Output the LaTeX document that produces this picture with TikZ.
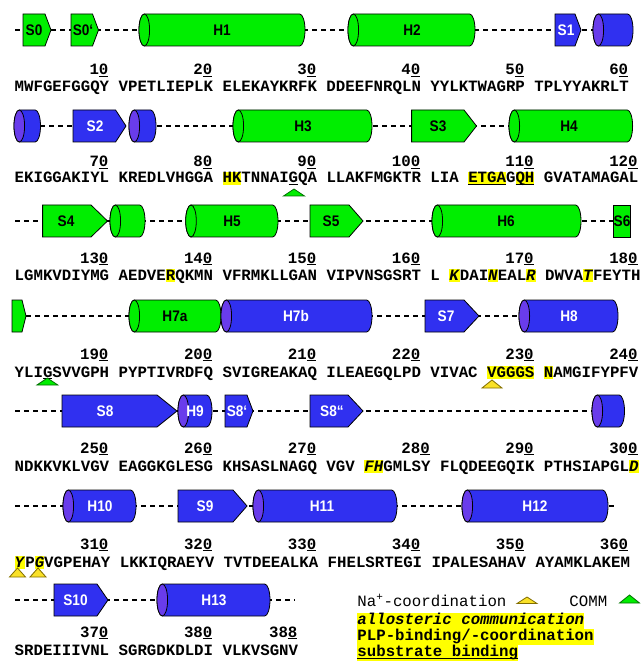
\documentclass[tikz,border=0pt]{standalone}
\usepackage{fontspec}
\usepackage{graphicx}
\setmonofont{Liberation Mono}
\newfontfamily\labfont{Liberation Sans}[FakeStretch=0.89]
\definecolor{hgreen}{RGB}{0,238,0}
\definecolor{hblue}{RGB}{48,48,240}
\definecolor{hface}{RGB}{105,60,235}
\definecolor{hly}{RGB}{255,255,0}
\definecolor{naf}{RGB}{250,225,40}
\definecolor{naedge}{RGB}{130,110,0}
\definecolor{commedge}{RGB}{0,110,0}
\newsavebox\hlbox
\newsavebox\unlbox
\newcommand\hlt[1]{\sbox\hlbox{#1}\rlap{\color{hly}\rule[-1.3pt]{\wd\hlbox}{9.3pt}}\usebox\hlbox}
\newcommand\unl[1]{\sbox\unlbox{#1}\rlap{\rule[-1.8pt]{\wd\unlbox}{0.7pt}}\usebox\unlbox}
\newcommand\helix[5]{\filldraw[fill=#4] (#1+5.3,#3-16) -- (#2-5.3,#3-16)
  arc[start angle=-90, end angle=90, x radius=5.3, y radius=16] -- (#1+5.3,#3+16)
  arc[start angle=90, end angle=270, x radius=5.3, y radius=16] -- cycle;
  \filldraw[fill=#5] (#1+5.3,#3) ellipse[x radius=5.3, y radius=16];}
\newcommand\strand[5]{\filldraw[fill=#5] (#1,#4-16) -- (#2,#4-16) -- (#3,#4)
  -- (#2,#4+16) -- (#1,#4+16) -- cycle;}
\newcommand\tri[5]{\filldraw[#5] (#1,#2) -- (#1+#3,#2+#4) -- (#1-#3,#2+#4) -- cycle;}

\begin{document}
\begin{tikzpicture}[x=0.75pt, y=-0.75pt, line width=0.6pt,
    seq/.style={inner sep=0pt, anchor=base west,
      font=\ttfamily\bfseries\fontsize{11.81}{14}\selectfont},
    num/.style={seq, anchor=base east},
    leg/.style={inner sep=0pt, anchor=base west,
      font=\ttfamily\fontsize{11.81}{14}\selectfont},
    legh/.style={seq, fill=hly, text height=8.6pt, text depth=3.4pt},
    lbk/.style={inner sep=0pt, text height=8.2pt, text depth=0pt,
      font=\labfont\bfseries\fontsize{11.5}{12}\selectfont},
    lbw/.style={lbk, text=white},
    coil/.style={dash pattern=on 3.75pt off 3pt, line width=0.8pt},
    comm/.style={fill=hgreen, draw=commedge},
    nac/.style={fill=naf, draw=naedge}]
  \useasboundingbox (0,0) rectangle (640,666);
  % column origin and width of one residue
  \def\xo{14.3} \def\cw{9.45}
  % ---- coil lines ----------------------------------------------------
  \draw[coil] (15,30) -- (593,30);
  \draw[coil] (40,126) -- (509,126);
  \draw[coil] (15,221) -- (613,221);
  \draw[coil] (26,316) -- (519,316);
  \draw[coil] (15,411) -- (592,411);
  \draw[coil] (15,506) -- (618,506);
  \draw[coil] (15,600) -- (295,600);
  % ---- row 1 ---------------------------------------------------------
  \strand{23}{45}{51}{30}{hgreen}
  \strand{71}{92.5}{98.5}{30}{hgreen}
  \helix{139}{305}{30}{hgreen}{hgreen}
  \helix{348}{475}{30}{hgreen}{hgreen}
  \strand{555}{575}{581}{30}{hblue}
  \helix{593}{633}{30}{hblue}{hface}
  \node[lbk] (s0) at (34,30) {S0};
  \node[lbk] (s0p) at (83,30) {S0‘};
  \node[lbk] (h1) at (222,30) {H1};
  \node[lbk] (h2) at (412,30) {H2};
  \node[lbw] (s1) at (566,30) {S1};
  % ---- row 2 ---------------------------------------------------------
  \helix{14}{40.5}{126}{hblue}{hface}
  \strand{73}{115.6}{126}{126}{hblue}
  \helix{129}{156}{126}{hblue}{hface}
  \helix{233}{372}{126}{hgreen}{hgreen}
  \strand{411.6}{464}{476.5}{126}{hgreen}
  \helix{509}{632.6}{126}{hgreen}{hgreen}
  \node[lbw] (s2) at (95,126) {S2};
  \node[lbk] (h3) at (303,126) {H3};
  \node[lbk] (s3) at (438,126) {S3};
  \node[lbk] (h4) at (569,126) {H4};
  % ---- row 3 ---------------------------------------------------------
  \strand{42.6}{91}{107.5}{221}{hgreen}
  \helix{110}{145}{221}{hgreen}{hgreen}
  \helix{185.7}{278}{221}{hgreen}{hgreen}
  \strand{310}{349}{363}{221}{hgreen}
  \helix{432}{581}{221}{hgreen}{hgreen}
  \filldraw[fill=hgreen] (613,205) rectangle (630.6,237);
  \node[lbk] (s4) at (66,221) {S4};
  \node[lbk] (h5) at (232,221) {H5};
  \node[lbk] (s5) at (331,221) {S5};
  \node[lbk] (h6) at (506,221) {H6};
  \node[lbk] (s6) at (622,221) {S6};
  % ---- row 4 ---------------------------------------------------------
  \strand{12}{22}{26}{316}{hgreen}
  \helix{129}{221}{316}{hgreen}{hgreen}
  \helix{221}{372}{316}{hblue}{hface}
  \strand{425}{464}{479}{316}{hblue}
  \helix{519}{618}{316}{hblue}{hface}
  \node[lbk] (h7a) at (175,316) {H7a};
  \node[lbw] (h7b) at (296,316) {H7b};
  \node[lbw] (s7) at (446,316) {S7};
  \node[lbw] (h8) at (569,316) {H8};
  % ---- row 5 ---------------------------------------------------------
  \strand{62}{157}{177}{411}{hblue}
  \helix{178}{212}{411}{hblue}{hface}
  \strand{225}{247}{253}{411}{hblue}
  \strand{310}{348}{363}{411}{hblue}
  \helix{592}{624.5}{411}{hblue}{hface}
  \node[lbw] (s8) at (105,411) {S8};
  \node[lbw] (h9) at (195,411) {H9};
  \node[lbw] (s8p) at (237,411) {S8‘};
  \node[lbw] (s8pp) at (332,411) {S8“};
  % ---- row 6 ---------------------------------------------------------
  \helix{63}{136}{506}{hblue}{hface}
  \strand{178}{233}{247}{506}{hblue}
  \helix{253}{397}{506}{hblue}{hface}
  \helix{462}{608}{506}{hblue}{hface}
  \node[lbw] (h10) at (100,506) {H10};
  \node[lbw] (s9) at (205,506) {S9};
  \node[lbw] (h11) at (322,506) {H11};
  \node[lbw] (h12) at (535,506) {H12};
  % ---- row 7 ---------------------------------------------------------
  \strand{54}{97}{108}{600}{hblue}
  \helix{157}{270}{600}{hblue}{hface}
  \node[lbw] (s10) at (75.5,600) {S10};
  \node[lbw] (h13) at (214,600) {H13};
  % ---- residue numbers -----------------------------------------------
  \foreach \c/\a/\b in {9/1/0,20/2/0,31/3/0,42/4/0,53/5/0,64/6/0}
    \node[num] (n\a\b) at ({\xo+(\c+1)*\cw},75) {\a\unl{\b}};
  \foreach \c/\a/\b in {9/7/0,20/8/0,31/9/0,42/10/0,54/11/0,65/12/0}
    \node[num] (n\a\b) at ({\xo+(\c+1)*\cw},167) {\a\unl{\b}};
  \foreach \c/\a/\b in {9/13/0,20/14/0,31/15/0,42/16/0,54/17/0,65/18/0}
    \node[num] (n\a\b) at ({\xo+(\c+1)*\cw},263) {\a\unl{\b}};
  \foreach \c/\a/\b in {9/19/0,20/20/0,31/21/0,42/22/0,54/23/0,65/24/0}
    \node[num] (n\a\b) at ({\xo+(\c+1)*\cw},359) {\a\unl{\b}};
  \foreach \c/\a/\b in {9/25/0,20/26/0,31/27/0,43/28/0,54/29/0,65/30/0}
    \node[num] (n\a\b) at ({\xo+(\c+1)*\cw},453) {\a\unl{\b}};
  \foreach \c/\a/\b in {9/31/0,20/32/0,31/33/0,42/34/0,53/35/0,64/36/0}
    \node[num] (n\a\b) at ({\xo+(\c+1)*\cw},549) {\a\unl{\b}};
  \foreach \c/\a/\b in {9/37/0,20/38/0,29/38/8}
    \node[num] (n\a\b) at ({\xo+(\c+1)*\cw},637) {\a\unl{\b}};
  % ---- sequence ------------------------------------------------------
  \node[seq] (r1) at (\xo,92) {MWFGEFGGQY VPETLIEPLK ELEKAYKRFK DDEEFNRQLN YYLKTWAGRP TPLYYAKRLT};
  \node[seq] (r2) at (\xo,183) {EKIGGAKIYL KREDLVHGGA \hlt{HK}TNNAI\unl{G}QA LLAKFMGKTR LIA \hlt{\unl{ETGA}}G\hlt{\unl{QH}} GVATAMAGAL};
  \node[seq] (r3) at (\xo,280) {LGMKVDIYMG AEDVE\hlt{R}QKMN VFRMKLLGAN VIPVNSGSRT L \hlt{\textit{K}}DAI\hlt{\textit{N}}EAL\hlt{\textit{R}} DWVA\hlt{\textit{T}}FEYTH};
  \node[seq] (r4) at (\xo,377) {YLI\unl{G}SVVGPH PYPTIVRDFQ SVIGREAKAQ ILEAEGQLPD VIVAC \hlt{VGGGS} \hlt{N}AMGIFYPFV};
  \node[seq] (r5) at (\xo,471) {NDKKVKLVGV EAGGKGLESG KHSASLNAGQ VGV \hlt{\textit{FH}}GMLSY FLQDEEGQIK PTHSIAPGL\hlt{\textit{D}}};
  \node[seq] (r6) at (\xo,567) {\hlt{\textit{Y}}P\hlt{\textit{G}}VGPEHAY LKKIQRAEYV TVTDEEALKA FHELSRTEGI IPALESAHAV AYAMKLAKEM};
  \node[seq] (r7) at (\xo,655) {SRDEIIIVNL SGRGDKDLDI VLKVSGNV};
  % ---- marks below residues ------------------------------------------
  \tri{294}{189}{10.5}{7}{comm}
  \tri{47.4}{378}{10.5}{7}{comm}
  \tri{492}{380}{10}{8}{nac}
  \tri{17.5}{568}{8}{9}{nac}
  \tri{38}{568}{8}{9}{nac}
  % ---- legend --------------------------------------------------------
  \node[leg] (na) at (357,606) {Na\textsuperscript{+}-coordination};
  \tri{527}{597}{10}{6.5}{nac}
  \node[leg] (commkey) at (569,606) {COMM};
  \tri{629.5}{595}{10}{8}{comm}
  \node[legh] (allo) at (357,624.5) {\textit{allosteric communication}};
  \node[legh] (plp) at (357,640.5) {PLP-binding/-coordination};
  \node[legh] (subs) at (357,656.5) {\unl{substrate binding}};
\end{tikzpicture}
\end{document}
